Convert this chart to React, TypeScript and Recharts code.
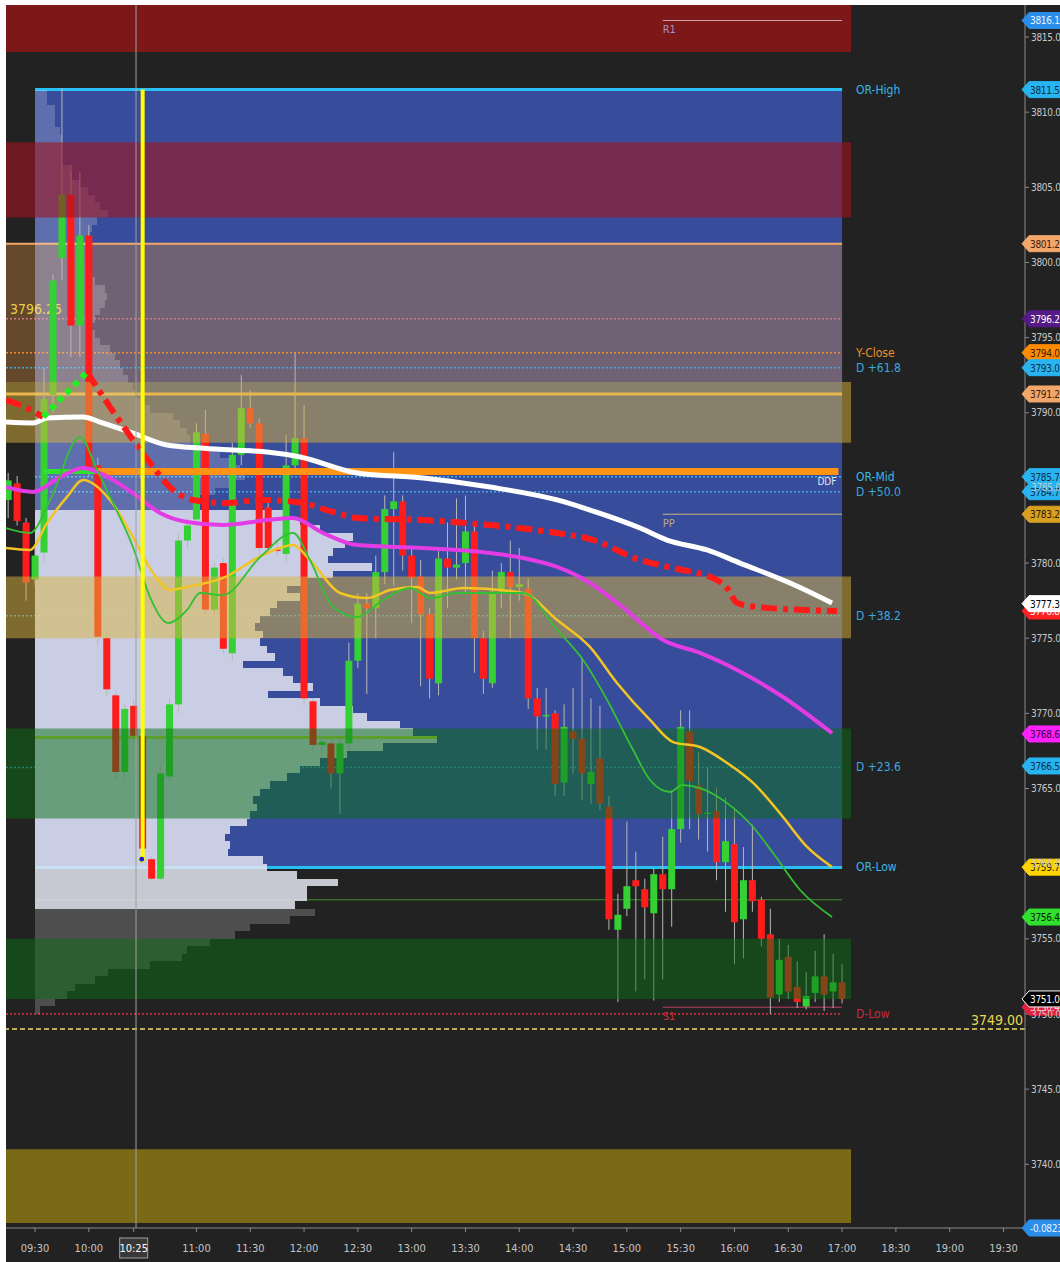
import React from 'react';
import {
  ComposedChart, XAxis, YAxis, Bar, Line, ReferenceArea, ReferenceLine, ReferenceDot,
} from 'recharts';

const FONT = "'Liberation Sans Narrow', 'DejaVu Sans Condensed', 'Liberation Sans', Arial, sans-serif";

// x = session minutes from 09:30 (axis jumps from 17:00 straight to 18:30)
const timeTicks = [0, 30, 55, 90, 120, 150, 180, 210, 240, 270, 300, 330, 360, 390, 420, 450, 480, 510, 540];
const timeLabels = ['09:30', '10:00', '10:25', '11:00', '11:30', '12:00', '12:30', '13:00', '13:30', '14:00', '14:30',
  '15:00', '15:30', '16:00', '16:30', '17:00', '18:30', '19:00', '19:30'];
const priceTicks = [3740, 3745, 3750, 3755, 3760, 3765, 3770, 3775, 3780, 3785, 3790, 3795, 3800, 3805, 3810, 3815];

const xDomain: [number, number] = [-16.2, 552];
const yDomain: [number, number] = [3735.76, 3817.13];

// 5 min bars, first one closes 09:15
const firstBar = -15;
const opens = [3784.2, 3785.3, 3782.7, 3778.9, 3780.7, 3791.2, 3800.3, 3804.5, 3795.8, 3801.8,
  3786.5, 3775.0, 3771.2, 3766.1, 3770.5, 3768.5, 3760.3, 3759.0, 3765.8, 3770.6,
  3781.5, 3782.9, 3788.6, 3776.9, 3780.0, 3774.0, 3787.2, 3790.3, 3789.3, 3783.7,
  3780.9, 3780.6, 3786.5, 3788.3, 3770.8, 3767.9, 3768.0, 3766.0, 3768.0, 3773.5,
  3777.3, 3777.0, 3779.4, 3783.6, 3784.1, 3780.5, 3779.1, 3776.6, 3772.0, 3780.3,
  3779.7, 3780.0, 3782.1, 3775.0, 3772.0, 3778.1, 3779.4, 3778.4, 3778.3, 3771.0,
  3769.8, 3770.0, 3765.4, 3768.8, 3768.3, 3765.3, 3767.0, 3763.8, 3755.6, 3757.0,
  3758.9, 3758.3, 3756.7, 3759.3, 3758.3, 3762.3, 3768.8, 3765.2, 3763.3, 3763.5,
  3760.1, 3761.3, 3756.3, 3758.9, 3757.6, 3755.3, 3751.3, 3753.8, 3751.8, 3750.5,
  3751.4, 3752.5, 3751.5, 3752.1];
const highs = [3786.0, 3785.8, 3783.0, 3781.0, 3793.0, 3799.2, 3811.6, 3806.5, 3806.0, 3802.5,
  3787.0, 3775.5, 3771.5, 3770.6, 3771.0, 3769.0, 3760.5, 3766.5, 3771.0, 3782.0,
  3783.0, 3789.3, 3790.2, 3780.0, 3780.3, 3788.0, 3792.5, 3791.5, 3789.6, 3784.0,
  3781.5, 3788.5, 3794.0, 3790.5, 3771.0, 3768.5, 3768.3, 3768.3, 3774.7, 3778.0,
  3778.0, 3780.5, 3784.5, 3787.4, 3784.5, 3781.0, 3780.2, 3777.0, 3780.8, 3782.7,
  3784.3, 3784.5, 3782.5, 3775.5, 3779.5, 3780.0, 3781.5, 3781.0, 3779.0, 3771.7,
  3771.7, 3770.2, 3770.6, 3771.7, 3773.7, 3771.0, 3770.5, 3764.5, 3758.0, 3762.8,
  3760.8, 3759.0, 3759.7, 3761.8, 3764.9, 3770.2, 3770.2, 3767.4, 3766.4, 3765.0,
  3764.4, 3763.6, 3761.1, 3762.6, 3757.8, 3757.0, 3755.0, 3754.6, 3753.5, 3752.8,
  3754.2, 3755.3, 3754.0, 3753.3];
const lows = [3783.0, 3782.5, 3777.5, 3778.5, 3780.0, 3790.0, 3798.8, 3793.7, 3793.7, 3785.8,
  3774.5, 3771.2, 3765.6, 3765.6, 3768.0, 3760.3, 3758.9, 3758.9, 3765.5, 3770.0,
  3781.0, 3782.5, 3776.5, 3776.5, 3774.0, 3773.5, 3786.5, 3789.0, 3780.5, 3780.8,
  3780.5, 3780.0, 3786.0, 3770.5, 3767.5, 3767.0, 3765.0, 3763.3, 3767.5, 3773.0,
  3771.3, 3775.0, 3778.6, 3778.5, 3779.5, 3776.0, 3771.8, 3771.0, 3771.2, 3777.0,
  3778.9, 3778.0, 3772.7, 3771.3, 3771.7, 3777.0, 3775.0, 3777.5, 3770.3, 3767.6,
  3767.6, 3764.5, 3764.5, 3766.0, 3764.2, 3764.0, 3763.6, 3755.6, 3750.8, 3756.5,
  3751.5, 3752.3, 3750.9, 3752.3, 3755.8, 3761.4, 3762.3, 3761.6, 3760.8, 3758.9,
  3756.8, 3753.3, 3753.7, 3756.8, 3754.5, 3750.0, 3750.8, 3751.0, 3750.4, 3750.3,
  3750.8, 3750.2, 3750.4, 3750.7];
const closes = [3785.5, 3782.8, 3778.7, 3780.5, 3790.9, 3798.8, 3804.5, 3795.8, 3801.8, 3786.4,
  3775.1, 3771.6, 3766.1, 3770.3, 3768.5, 3761.0, 3759.0, 3766.0, 3770.6, 3781.5,
  3782.5, 3788.7, 3776.9, 3779.7, 3774.3, 3787.2, 3790.3, 3789.3, 3781.0, 3781.0,
  3780.8, 3786.5, 3788.3, 3771.0, 3767.9, 3768.1, 3766.0, 3768.0, 3773.5, 3777.3,
  3777.0, 3779.4, 3783.6, 3784.1, 3780.5, 3779.0, 3776.6, 3772.3, 3780.3, 3779.7,
  3779.9, 3782.1, 3775.0, 3772.3, 3778.1, 3779.4, 3778.4, 3778.6, 3771.0, 3769.8,
  3769.9, 3765.3, 3769.1, 3768.3, 3766.0, 3766.1, 3764.0, 3756.3, 3756.6, 3758.5,
  3758.5, 3757.1, 3759.3, 3758.3, 3762.3, 3769.1, 3765.5, 3763.3, 3763.4, 3760.1,
  3761.5, 3756.1, 3758.9, 3757.5, 3755.0, 3751.1, 3753.6, 3751.5, 3750.8, 3751.2,
  3752.5, 3751.3, 3752.1, 3751.0];

// moving averages, [minute, price]
const slowMa = [[-16.2, 3789.38], [-1.1, 3789.32], [6.7, 3789.65], [26.8, 3789.72], [36.2, 3789.38], [54.6, 3788.65],
  [73.6, 3787.85], [92, 3787.65], [110.4, 3787.52], [129.4, 3787.39], [147.8, 3787.06], [179.6, 3785.99],
  [216.4, 3785.66], [253.7, 3785.06], [291.1, 3784.2], [309.5, 3783.53], [337.4, 3782.33], [352.4, 3781.53],
  [374.7, 3780.87], [393.1, 3780.0], [421, 3778.67], [444.4, 3777.34]];
const stopBefore = [[-16.2, 3790.85], [-4.5, 3790.32], [4.5, 3789.72]];
const stopRise = [[4.5, 3789.72], [29, 3792.71]];
const stopFall = [[29, 3792.71], [41.8, 3790.38], [54.6, 3788.19], [64.1, 3786.66], [77, 3784.86], [88.1, 3784.2],
  [107.1, 3784.0], [125.5, 3784.2], [146.1, 3784.06], [166.2, 3783.4], [179.6, 3783.0], [216.4, 3782.86],
  [253.7, 3782.53], [291.1, 3782.0], [309.5, 3781.6], [337.4, 3780.2], [355.8, 3779.67], [380.3, 3778.87],
  [385.9, 3778.34], [391.5, 3777.34], [402.6, 3777.08], [447.2, 3776.81]];
const midMa = [[-16.2, 3785.06], [-1.1, 3784.73], [13.9, 3785.72], [26.8, 3786.32], [36.2, 3785.99], [54.6, 3784.66],
  [69.7, 3783.33], [84.8, 3782.73], [104.8, 3782.53], [129.4, 3782.86], [143.9, 3783.0], [160.6, 3782.0],
  [179.6, 3781.2], [216.4, 3781.0], [253.7, 3780.67], [272.1, 3780.34], [291.1, 3779.74], [309.5, 3778.67],
  [326.2, 3777.21], [350.2, 3774.88], [370.8, 3774.02], [398.7, 3772.42], [417.1, 3771.09], [444.4, 3768.69]];
const fastMa = [[-16.2, 3781.0], [-2.8, 3780.87], [6.7, 3782.67], [17.8, 3784.4], [26.8, 3785.53], [41.8, 3784.2],
  [54.6, 3781.73], [65.8, 3779.34], [75.3, 3778.21], [84.8, 3778.41], [104.8, 3779.01], [127.1, 3780.54],
  [143.9, 3781.2], [153.3, 3780.2], [170.1, 3778.01], [185.1, 3777.67], [198, 3778.21], [213, 3778.41],
  [220.3, 3778.01], [238.7, 3778.34], [272.1, 3778.01], [291.1, 3776.21], [309.5, 3774.41], [324.5, 3772.02],
  [342.9, 3769.56], [355.8, 3768.09], [370.8, 3767.76], [385.9, 3766.7], [400.4, 3765.37], [417.1, 3763.1],
  [430.5, 3761.11], [444.4, 3759.78]];
const fastestMa = [[-16.2, 3782.33], [-2.8, 3782.0], [8.4, 3784.2], [25.1, 3788.39], [34.6, 3786.19], [41.8, 3784.4],
  [54.6, 3781.07], [64.1, 3777.74], [74.2, 3776.01], [84.8, 3776.88], [92, 3778.01], [104.8, 3777.87],
  [125.5, 3780.4], [143.9, 3782.0], [153.3, 3780.2], [166.2, 3777.08], [179.6, 3776.41], [194.1, 3777.54],
  [209.1, 3778.34], [220.3, 3777.67], [235.3, 3778.01], [272.1, 3778.01], [291.1, 3775.55], [305.6, 3773.55],
  [319, 3770.89], [333.5, 3767.56], [342.9, 3765.57], [354.1, 3764.77], [360.8, 3765.23], [370.8, 3765.03],
  [385.9, 3764.03], [400.4, 3762.44], [411.5, 3760.71], [426.6, 3758.25], [444.4, 3756.45]];

// volume profile, 0.5 pt rows from 3811.0 down to 3750.0 (drawn from 09:30)
const profileTop = 3811.0;
const profileStep = 0.5;
const profileVolume = [12, 12, 20, 20, 20, 25, 27, 27, 27, 27,
  35, 37, 45, 53, 60, 65, 73, 62, 57, 55,
  53, 50, 50, 53, 55, 60, 70, 72, 70, 65,
  60, 57, 60, 65, 75, 80, 85, 88, 93, 98,
  100, 108, 115, 138, 145, 152, 155, 172, 185, 195,
  205, 210, 195, 180, 165, 165, 250, 265, 285, 318,
  310, 298, 293, 337, 298, 272, 252, 265, 242, 235,
  225, 220, 228, 225, 232, 240, 208, 248, 258, 278,
  233, 285, 318, 332, 365, 378, 402, 348, 312, 285,
  265, 252, 235, 225, 218, 222, 215, 212, 195, 190,
  195, 193, 228, 232, 262, 303, 272, 272, 260, 280,
  255, 215, 200, 175, 152, 147, 115, 73, 60, 40,
  32, 20, 5];
const valueAreaHigh = 3783.0;
const valueAreaLow = 3757.0;
const pocPrice = 3768.4;
const pocVolume = 402;

// levels
const r1 = 3816.1;
const orHigh = 3811.5;
const prevHighLine = 3801.25;
const level379625 = 3796.25;
const yClose = 3794.0;
const d618 = 3793.0;
const level379125 = 3791.25;
const ddf = 3786.1;
const orMid = 3785.75;
const d500 = 3784.75;
const pivot = 3783.25;
const d382 = 3776.5;
const d236 = 3766.4;
const orLow = 3759.75;
const thinGreen = 3757.6;
const s1 = 3750.45;
const dLow = 3750.0;
const lastLevel = 3749.0;
const markerTime = 60;
const crossTime = 56.3;
const oscValue = '-0.0823';

// zones [bottom, top]
const r1Zone = [3814.0, 3817.13];
const crimsonZone = [3803.0, 3808.0];
const greyZone = [3792.05, 3801.25];
const yellowZones = [[3788.0, 3792.05], [3775.0, 3779.1]];
const greenZones = [[3763.0, 3769.0], [3751.0, 3755.0]];
const oliveZone = [3736.1, 3741.0];

// right side price markers
const tagPrices = [3816.1, 3811.5, 3801.25, 3796.25, 3794.0, 3793.0, 3791.25, 3785.75, 3784.75, 3783.25,
  3776.81, 3777.3, 3768.63, 3766.5, 3759.77, 3756.45, 3750.45, 3751.0];
const tagColors = [
  ['#2a8ee8', '#e8f4ff'], ['#27b4f0', '#0c2c48'], ['#f2a66a', '#3a2010'], ['#561a86', '#ffffff'],
  ['#ff8a00', '#3a1a00'], ['#27b4f0', '#0c2c48'], ['#f2a66a', '#3a2010'], ['#27b4f0', '#0c2c48'],
  ['#27b4f0', '#0c2c48'], ['#d8a020', '#2a1a00'], ['#ff2020', '#ffffff'], ['#ffffff', '#000000'],
  ['#ff20ff', '#300030'], ['#27b4f0', '#0c2c48'], ['#ffd400', '#2a2000'], ['#30e030', '#002000'],
  ['#e0203c', '#ffd0d8'], ['#000000', '#ffffff'],
];

const candles = opens.map((o, i) => ({ t: firstBar + i * 5, open: o, high: highs[i], low: lows[i], close: closes[i] }));
const pts = (arr: number[][]) => arr.map(([t, v]) => ({ t, v }));
// profile volume units are drawn at one pixel each along the time axis
const plotWidth = 1019;
const minutesPerVolume = (xDomain[1] - xDomain[0]) / plotWidth;

function box(p: any) {
  const vb = (p && p.viewBox) || {};
  if (vb.x1 !== undefined) {
    return { x: Math.min(vb.x1, vb.x2), y: Math.min(vb.y1, vb.y2), width: Math.abs(vb.x2 - vb.x1), height: Math.abs(vb.y2 - vb.y1) };
  }
  return { x: vb.x || 0, y: vb.y || 0, width: vb.width || 0, height: vb.height || 0 };
}

const rightText = (text: string, color: string) => (p: any) => {
  const b = box(p);
  return <text x={b.x + b.width + 14} y={b.y + 4} fill={color} fontSize={12} fontFamily={FONT}>{text}</text>;
};
const belowStart = (text: string, color: string) => (p: any) => {
  const b = box(p);
  return <text x={b.x} y={b.y + 13} fill={color} fontSize={11} fontFamily={FONT}>{text}</text>;
};

const tag = (text: string, bg: string, fg: string) => (p: any) => {
  const b = box(p);
  const r = b.x + b.width;
  const y = b.y;
  return (
    <g>
      <polygon points={`${r - 3},${y} ${r + 4},${y - 8} ${r + 40},${y - 8} ${r + 40},${y + 8} ${r + 4},${y + 8}`}
        fill={bg} stroke={bg === '#000000' ? '#ffffff' : bg} strokeWidth={1} />
      <text x={r + 5} y={y + 4} fill={fg} fontSize={10} letterSpacing={-0.3} fontFamily={FONT}>{text}</text>
    </g>
  );
};

function Candle(props: any) {
  const { x, y, width, height, payload } = props;
  if (!payload || x == null || y == null) return null;
  const { open, close, high, low } = payload;
  const top = Math.min(y, y + height);
  const span = Math.abs(height);
  const ppu = high > low ? span / (high - low) : 0;
  const py = (v: number) => top + (high - v) * ppu;
  const cx = x + width / 2;
  const up = close >= open;
  const bodyTop = py(Math.max(open, close));
  const bodyH = Math.max(1.5, Math.abs(py(open) - py(close)));
  return (
    <g>
      <line x1={cx} x2={cx} y1={top} y2={top + span} stroke="#b8b8b8" strokeWidth={1} />
      <rect x={cx - 3.5} y={bodyTop} width={7} height={bodyH} fill={up ? '#34d034' : '#ff1c1c'} />
    </g>
  );
}

function TimeTick(props: any) {
  const { x, y, payload } = props;
  const idx = timeTicks.indexOf(payload.value);
  const label = idx >= 0 ? timeLabels[idx] : '';
  const boxed = label === '10:25';
  return (
    <g>
      {boxed && <rect x={x - 14} y={y + 4} width={28} height={20} fill="#383838" stroke="#a0a0a0" />}
      <text x={x} y={y + 18} textAnchor="middle" fill={boxed ? '#ffffff' : '#c4c4c4'} fontSize={11} fontFamily={FONT}>{label}</text>
    </g>
  );
}

export default function App() {
  const fullX: [number, number] = [xDomain[0], 450];
  const bandX: [number, number] = [xDomain[0], 455];
  return (
    <div style={{ position: 'absolute', left: 6, top: 5, width: 1054, height: 1257, background: '#222222' }}>
      <ComposedChart width={1054} height={1257} data={candles} margin={{ top: 0, right: 0, bottom: 0, left: 0 }}
        style={{ background: '#222222' }}>
        <XAxis dataKey="t" type="number" domain={xDomain} allowDataOverflow ticks={timeTicks} interval={0}
          height={34} tick={<TimeTick />} tickSize={4} axisLine={{ stroke: '#8a8a8a' }} tickLine={{ stroke: '#8a8a8a' }} />
        <YAxis orientation="right" type="number" domain={yDomain} allowDataOverflow ticks={priceTicks} interval={0}
          width={35} tickSize={4} tickFormatter={(v: number) => v.toFixed(2)}
          tick={{ fill: '#c8c8c8', fontSize: 10, fontFamily: FONT, letterSpacing: -0.3 }}
          axisLine={{ stroke: '#8a8a8a' }} tickLine={{ stroke: '#8a8a8a' }} />

        {/* base zones under the candles */}
        <ReferenceArea x1={0} x2={450} y1={orLow} y2={orHigh} fill="#374c9a" fillOpacity={1} ifOverflow="hidden" zIndex={10} />
        <ReferenceArea x1={xDomain[0]} x2={450} y1={greyZone[0]} y2={greyZone[1]} fill="#c8823c" fillOpacity={0.4} ifOverflow="hidden" zIndex={11} />

        {/* level lines */}
        <ReferenceLine segment={[{ x: 0, y: orHigh }, { x: 450, y: orHigh }]} stroke="#29c0f8" strokeWidth={3} zIndex={20}
          label={rightText('OR-High', '#3ab8e8')} />
        <ReferenceLine segment={[{ x: fullX[0], y: prevHighLine }, { x: 450, y: prevHighLine }]} stroke="#f2a868" strokeWidth={2} zIndex={20} />
        <ReferenceLine segment={[{ x: fullX[0], y: level379625 }, { x: 450, y: level379625 }]} stroke="#d07888" strokeWidth={1.5} strokeDasharray="2 2" zIndex={20}
          label={(p: any) => { const b = box(p); return <text x={b.x + 4} y={b.y - 5} fill="#e8d04a" fontSize={14} fontFamily={FONT}>3796.25</text>; }} />
        <ReferenceLine segment={[{ x: fullX[0], y: yClose }, { x: 450, y: yClose }]} stroke="#f08a30" strokeWidth={1.5} strokeDasharray="2 2" zIndex={20}
          label={rightText('Y-Close', '#e8902a')} />
        <ReferenceLine segment={[{ x: fullX[0], y: d618 }, { x: 450, y: d618 }]} stroke="#40a8e0" strokeWidth={1.5} strokeDasharray="2 2" zIndex={20}
          label={rightText('D +61.8', '#3aa8e0')} />
        <ReferenceLine segment={[{ x: fullX[0], y: level379125 }, { x: 450, y: level379125 }]} stroke="#f8b860" strokeWidth={3} zIndex={20} />
        <ReferenceLine segment={[{ x: 0, y: orMid }, { x: 450, y: orMid }]} stroke="#40b0e8" strokeWidth={1.5} strokeDasharray="2 2" zIndex={20}
          label={rightText('OR-Mid', '#3ab8e8')} />
        <ReferenceLine segment={[{ x: fullX[0], y: d500 }, { x: 450, y: d500 }]} stroke="#40a8e0" strokeWidth={1.5} strokeDasharray="2 2" zIndex={20}
          label={rightText('D +50.0', '#3aa8e0')} />
        <ReferenceLine segment={[{ x: 350, y: pivot }, { x: 450, y: pivot }]} stroke="#c8b478" strokeWidth={1} zIndex={20}
          label={belowStart('PP', '#b8a888')} />
        <ReferenceLine segment={[{ x: fullX[0], y: d382 }, { x: 450, y: d382 }]} stroke="#3aa0c8" strokeWidth={1.5} strokeDasharray="2 2" zIndex={20}
          label={rightText('D +38.2', '#3aa8e0')} />
        <ReferenceLine segment={[{ x: fullX[0], y: d236 }, { x: 450, y: d236 }]} stroke="#3aa0c8" strokeWidth={1.5} strokeDasharray="2 2" zIndex={20}
          label={rightText('D +23.6', '#3aa8e0')} />
        <ReferenceLine segment={[{ x: 0, y: orLow }, { x: 450, y: orLow }]} stroke="#29c0f8" strokeWidth={3} zIndex={20}
          label={rightText('OR-Low', '#3ab8e8')} />
        <ReferenceLine segment={[{ x: 0, y: thinGreen }, { x: 450, y: thinGreen }]} stroke="#3c8c2c" strokeWidth={1} zIndex={20} />
        <ReferenceLine segment={[{ x: 350, y: r1 }, { x: 450, y: r1 }]} stroke="#d0a0b0" strokeWidth={1} zIndex={360}
          label={belowStart('R1', '#a890c8')} />
        <ReferenceLine segment={[{ x: 350, y: s1 }, { x: 450, y: s1 }]} stroke="#c04060" strokeWidth={1} zIndex={20}
          label={belowStart('S1', '#c03048')} />
        <ReferenceLine segment={[{ x: fullX[0], y: dLow }, { x: 450, y: dLow }]} stroke="#e03040" strokeWidth={1.5} strokeDasharray="2 2" zIndex={20}
          label={rightText('D-Low', '#d0283c')} />
        <ReferenceLine y={lastLevel} stroke="#f0e060" strokeWidth={1.5} strokeDasharray="5 3" zIndex={20}
          label={(p: any) => { const b = box(p); return <text x={b.x + b.width - 2} y={b.y - 4} textAnchor="end" fill="#e8d850" fontSize={14} fontFamily={FONT}>3749.00</text>; }} />

        {/* volume profile */}
        {profileVolume.map((v, i) => {
          const p = profileTop - i * profileStep;
          const inVa = p <= valueAreaHigh && p >= valueAreaLow;
          return (
            <ReferenceArea key={`vp-${i}`} x1={0} x2={v * minutesPerVolume} y1={p} y2={p + profileStep}
              fill={inVa ? '#e2e4f0' : '#ffffff'} fillOpacity={inVa ? 0.86 : 0.2} shapeRendering="crispEdges"
              ifOverflow="hidden" zIndex={30} />
          );
        })}
        <ReferenceLine segment={[{ x: 0, y: pocPrice }, { x: pocVolume * minutesPerVolume, y: pocPrice }]} stroke="#a8d040" strokeWidth={3} zIndex={40} />

        <Bar dataKey={(d: any) => [d.low, d.high]} shape={Candle} barSize={7} isAnimationActive={false} zIndex={300} />

        {/* translucent zones over the candles */}
        <ReferenceArea x1={bandX[0]} x2={bandX[1]} y1={r1Zone[0]} y2={r1Zone[1]} fill="#7c1818" fillOpacity={1} ifOverflow="hidden" zIndex={350} />
        <ReferenceArea x1={bandX[0]} x2={bandX[1]} y1={crimsonZone[0]} y2={crimsonZone[1]} fill="#a0141e" fillOpacity={0.6} ifOverflow="hidden" zIndex={350} />
        {yellowZones.map((z, i) => (
          <ReferenceArea key={`yz-${i}`} x1={bandX[0]} x2={bandX[1]} y1={z[0]} y2={z[1]} fill="#dcb43c" fillOpacity={0.5} ifOverflow="hidden" zIndex={350} />
        ))}
        {greenZones.map((z, i) => (
          <ReferenceArea key={`gz-${i}`} x1={bandX[0]} x2={bandX[1]} y1={z[0]} y2={z[1]} fill="#0a6e14" fillOpacity={0.5} ifOverflow="hidden" zIndex={350} />
        ))}
        <ReferenceArea x1={bandX[0]} x2={bandX[1]} y1={oliveZone[0]} y2={oliveZone[1]} fill="#7a6a17" fillOpacity={1} ifOverflow="hidden" zIndex={350} />

        <ReferenceLine segment={[{ x: 4.5, y: ddf }, { x: 35, y: ddf }]} stroke="#30e030" strokeWidth={5} zIndex={360} />
        <ReferenceLine segment={[{ x: 35, y: ddf }, { x: 448, y: ddf }]} stroke="#ff9414" strokeWidth={7} zIndex={360}
          label={(p: any) => { const b = box(p); return <text x={b.x + b.width - 2} y={b.y + 14} textAnchor="end" fill="#e8e8f0" fontSize={10} fontFamily={FONT}>DDF</text>; }} />

        <Line data={pts(slowMa)} dataKey="v" type="monotone" stroke="#ffffff" strokeWidth={5} dot={false} isAnimationActive={false} zIndex={400} />
        <Line data={pts(midMa)} dataKey="v" type="monotone" stroke="#e43ce4" strokeWidth={4} dot={false} isAnimationActive={false} zIndex={400} />
        <Line data={pts(fastMa)} dataKey="v" type="monotone" stroke="#f2c424" strokeWidth={2.5} dot={false} isAnimationActive={false} zIndex={400} />
        <Line data={pts(fastestMa)} dataKey="v" type="monotone" stroke="#34c034" strokeWidth={1.8} dot={false} isAnimationActive={false} zIndex={400} />
        <Line data={pts(stopBefore)} dataKey="v" type="monotone" stroke="#ff1a1a" strokeWidth={6} strokeDasharray="16 6 5 6" dot={false} isAnimationActive={false} zIndex={400} />
        <Line data={pts(stopFall)} dataKey="v" type="monotone" stroke="#ff1a1a" strokeWidth={6} strokeDasharray="16 6 5 6" dot={false} isAnimationActive={false} zIndex={400} />
        <Line data={pts(stopRise)} dataKey="v" type="linear" stroke="#22ee22" strokeWidth={6} strokeDasharray="6 5" dot={false} isAnimationActive={false} zIndex={400} />

        <ReferenceLine x={crossTime} stroke="#a0a0a0" strokeWidth={1} zIndex={420} />
        <ReferenceLine segment={[{ x: markerTime, y: orLow + 0.6 }, { x: markerTime, y: orHigh }]} stroke="#ffff00" strokeWidth={4} zIndex={430} />
        <ReferenceDot x={markerTime - 0.5} y={orLow + 0.55} r={3} fill="#1a1ae0" stroke="#ffff00" strokeWidth={1} zIndex={440} />

        {tagPrices.map((p, i) => (
          <ReferenceLine key={`tag-${i}`} y={p} stroke="none" strokeOpacity={0} zIndex={600}
            label={tag(p.toFixed(2), tagColors[i][0], tagColors[i][1])} />
        ))}
        <ReferenceLine y={yDomain[0]} stroke="none" strokeOpacity={0} zIndex={600}
          label={tag(oscValue, '#2a8ee8', '#e8f4ff')} />
      </ComposedChart>
    </div>
  );
}
